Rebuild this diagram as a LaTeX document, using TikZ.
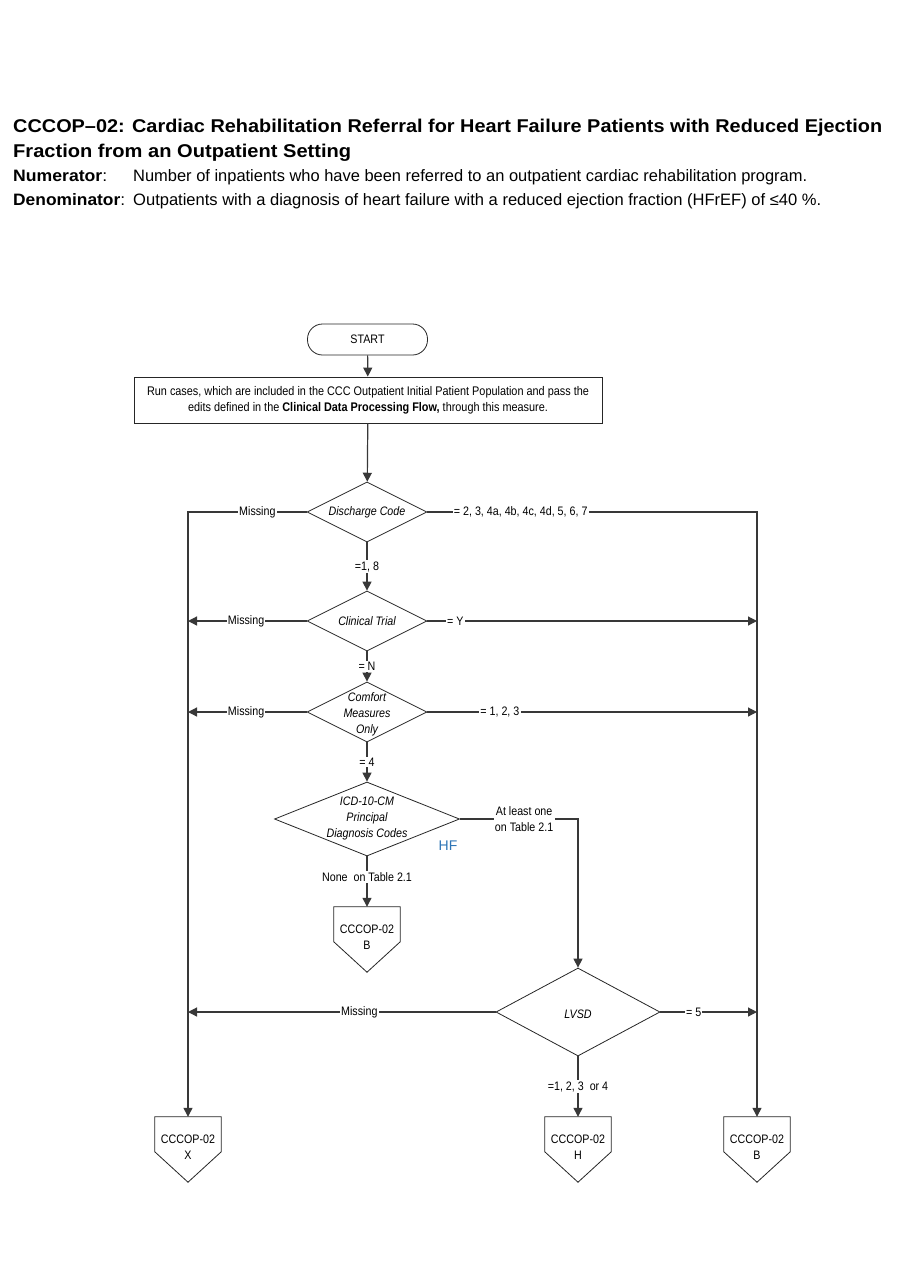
\documentclass[tikz,border=0pt]{standalone}
\usepackage{fontspec}
\usepackage{graphicx}
\setmainfont{Liberation Sans}
\newfontfamily\nar[FakeStretch=0.87]{Liberation Sans}
\usetikzlibrary{shapes.geometric,arrows.meta,calc}
\tikzset{
  ln/.style={draw=black!78, line width=1.2pt},
  ar/.style={ln, -{Triangle[length=9pt,width=9pt]}},
  dec/.style={diamond, draw=black!85, line width=0.8pt, inner sep=0pt, minimum width=120pt, minimum height=60pt},
  lbl/.style={fill=white, inner sep=1.2pt, font=\nar\fontsize{12.3}{14}\selectfont},
  dtxt/.style={font=\nar\itshape\fontsize{12.3}{16}\selectfont, align=center, inner sep=0pt},
  ttl/.style={anchor=base west, inner sep=0pt, font=\bfseries\fontsize{18.5}{20}\selectfont},
  hd/.style={anchor=base west, inner sep=0pt, font=\fontsize{16.5}{18}\selectfont},
  opc/.style={rectangle, minimum width=66pt, minimum height=65pt, inner sep=0pt},
  opctxt/.style={font=\nar\fontsize{12.3}{16}\selectfont, align=center, inner sep=0pt},
}
\newcommand\offpg[3]{%
  \node[opc] (#1) at (#2) {};
  \draw[draw=black!85, line width=0.8pt] (#1.north west) -- (#1.north east) -- ($(#1.north east)+(0,35)$) -- (#1.south) -- ($(#1.north west)+(0,35)$) -- cycle;
  \node[opctxt] (#1t) at ($(#1.north)+(0,30)$) {CCCOP-02\\#3};
}
\begin{document}
\begin{tikzpicture}[x=1pt,y=-1pt]
\useasboundingbox (0,0) rectangle (900,1286);
\fill[white] (0,0) rectangle (900,1286);
% header
\node[ttl] (t1) at (13,132) {\resizebox{869pt}{\height}{CCCOP–02: Cardiac Rehabilitation Referral for Heart Failure Patients with Reduced Ejection}};
\node[ttl] (t2) at (13,157) {\resizebox{338pt}{\height}{Fraction from an Outpatient Setting}};
\node[hd] (num) at (13,181) {\resizebox{94pt}{\height}{\textbf{Numerator}:}};
\node[hd] (numt) at (133,181) {\resizebox{674pt}{\height}{Number of inpatients who have been referred to an outpatient cardiac rehabilitation program.}};
\node[hd] (den) at (13,205) {\resizebox{112pt}{\height}{\textbf{Denominator}:}};
\node[hd] (dent) at (133,205) {\resizebox{688pt}{\height}{Outpatients with a diagnosis of heart failure with a reduced ejection fraction (HFrEF) of ≤40 \%.}};
% nodes
\node[draw=black!85, line width=0.8pt, rounded corners=15pt, minimum width=120pt, minimum height=31pt, inner sep=0pt, font=\nar\fontsize{12.3}{14}\selectfont] (start) at (367.5,339.5) {START};
\node[draw=black!85, line width=0.8pt, rectangle, minimum width=468pt, minimum height=46pt, inner sep=0pt, align=center, font=\nar\fontsize{12.5}{16}\selectfont] (run) at (368,400) {Run cases, which are included in the CCC Outpatient Initial Patient Population and pass the\\edits defined in the \textbf{Clinical Data Processing Flow,} through this measure.};
\node[dec] (dc) at (367,512) {};
\node[dtxt] (dct) at (dc) {Discharge Code};
\node[dec] (ct) at (367,621) {};
\node[dtxt] (ctt) at (ct) {Clinical Trial};
\node[dec] (cm) at (367,712) {};
\node[dtxt] (cmt) at (367,714) {Comfort\\Measures\\Only};
\node[dec, minimum width=185pt, minimum height=74pt] (icd) at (367,819) {};
\node[dtxt] (icdt) at (367,818) {ICD-10-CM\\Principal\\Diagnosis Codes};
\node[text={rgb,255:red,46;green,117;blue,182}, inner sep=0pt, font=\fontsize{14}{16}\selectfont] (hf) at (448,846) {HF};
\node[dec, minimum width=164pt, minimum height=88pt] (lv) at (578,1012) {};
\node[dtxt] (lvt) at (578,1014) {LVSD};
\offpg{B}{367,939.5}{B}
\offpg{X}{188,1149.5}{X}
\offpg{H}{578,1149.5}{H}
\offpg{Bb}{757,1149.5}{B}
\coordinate (L1) at (188,512);
\coordinate (R1) at (757,512);
\coordinate (R2) at (578,819);
% connectors
\draw[ar] (start) -- (run);
\draw[ar] (run) -- (dc);
\draw[ar] (dc.west) -- node[lbl,pos=0.415]{Missing} (L1) -- (X.north);
\draw[ar] (dc.east) -- node[lbl,pos=0.283]{= 2, 3, 4a, 4b, 4c, 4d, 5, 6, 7} (R1) -- (Bb.north);
\draw[ar] (dc.south) -- node[lbl,pos=0.5]{=1, 8} (ct.north);
\draw[ar] (ct.west) -- node[lbl,pos=0.51]{Missing} (ct.west -| L1);
\draw[ar] (ct.east) -- node[lbl,pos=0.085]{= Y} (ct.east -| R1);
\draw[ar] (ct.south) -- node[lbl,pos=0.5]{= N} (cm.north);
\draw[ar] (cm.west) -- node[lbl,pos=0.51]{Missing} (cm.west -| L1);
\draw[ar] (cm.east) -- node[lbl,pos=0.22]{= 1, 2, 3} (cm.east -| R1);
\draw[ar] (cm.south) -- node[lbl,pos=0.5]{= 4} (icd.north);
\draw[ar] (icd.east) -- node[lbl,align=center,pos=0.544,font=\nar\fontsize{12.3}{16}\selectfont]{At least one\\on Table 2.1} (R2) -- (lv.north);
\draw[ar] (icd.south) -- node[lbl,pos=0.41]{None\ \ on Table 2.1} (B.north);
\draw[ar] (lv.west) -- node[lbl,pos=0.443]{Missing} (lv.west -| L1);
\draw[ar] (lv.east) -- node[lbl,pos=0.344]{= 5} (lv.east -| R1);
\draw[ar] (lv.south) -- node[lbl,pos=0.5]{=1, 2, 3\ \ or 4} (H.north);
\end{tikzpicture}
\end{document}
